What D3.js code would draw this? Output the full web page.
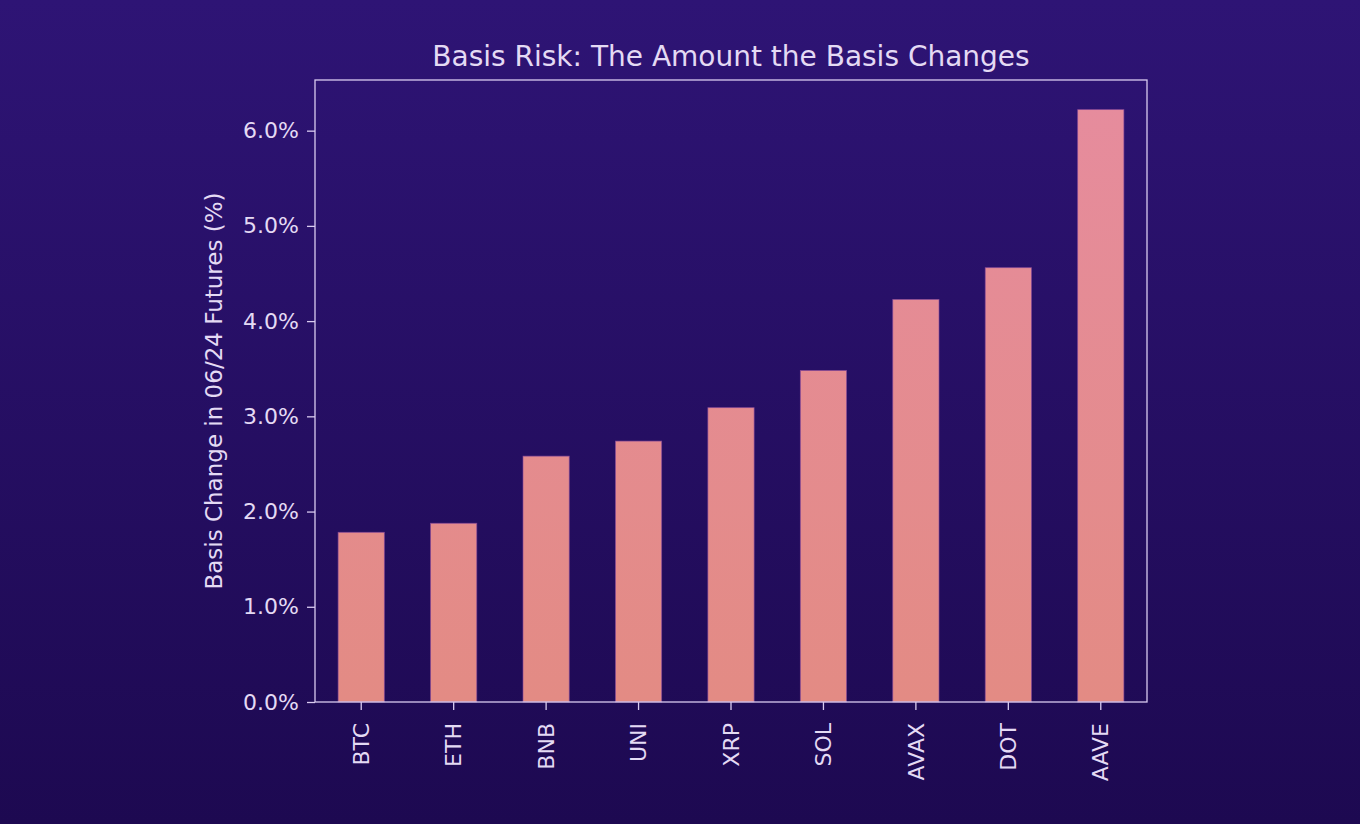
<!DOCTYPE html>
<html><head><meta charset="utf-8">
<script src="https://cdn.jsdelivr.net/npm/d3@7"></script>
<style>html,body{margin:0;padding:0;overflow:hidden;background:#25105f;}</style>
</head><body>
<script>
const categories = ["BTC","ETH","BNB","UNI","XRP","SOL","AVAX","DOT","AAVE"];
const values = [1.782, 1.877, 2.582, 2.740, 3.091, 3.481, 4.228, 4.561, 6.221];
const yTicks = [0,1,2,3,4,5,6];
const title = "Basis Risk: The Amount the Basis Changes";
const yLabel = "Basis Change in 06/24 Futures (%)";

const W = 1360, H = 824;
const m = {left:315, right:1147, top:80, bottom:702};
const txt = "#e4daf4", axisC = "#d9cbf0";
const font = "DejaVu Sans, sans-serif";

const svg = d3.select("body").append("svg").attr("width",W).attr("height",H);
const defs = svg.append("defs");
const bg = defs.append("linearGradient").attr("id","bg").attr("x1",0).attr("y1",0).attr("x2",0).attr("y2",1);
bg.append("stop").attr("offset","0%").attr("stop-color","#2e1475");
bg.append("stop").attr("offset","100%").attr("stop-color","#1d0951");
const bar = defs.append("linearGradient").attr("id","bar").attr("gradientUnits","userSpaceOnUse")
  .attr("x1",0).attr("y1",m.top).attr("x2",0).attr("y2",m.bottom);
bar.append("stop").attr("offset","0%").attr("stop-color","#e68c9e");
bar.append("stop").attr("offset","100%").attr("stop-color","#e38b84");

svg.append("rect").attr("width",W).attr("height",H).attr("fill","url(#bg)");

const x = d3.scaleBand().domain(categories).range([m.left,m.right]).paddingInner(0.5).paddingOuter(0.25);
const y = d3.scaleLinear().domain([0, d3.max(values)*1.05]).range([m.bottom,m.top]);

svg.append("g").selectAll("rect").data(values).join("rect")
  .attr("x",(d,i)=>x(categories[i])).attr("width",x.bandwidth())
  .attr("y",d=>y(d)).attr("height",d=>y(0)-y(d))
  .attr("fill","url(#bar)").attr("stroke","#8a4a9a").attr("stroke-width",0.8).attr("stroke-opacity",0.8);

// frame
svg.append("rect").attr("x",m.left).attr("y",m.top).attr("width",m.right-m.left).attr("height",m.bottom-m.top)
  .attr("fill","none").attr("stroke",axisC).attr("stroke-width",1.3);

const yAxis = svg.append("g").attr("transform",`translate(${m.left},0)`)
  .call(d3.axisLeft(y).tickValues(yTicks).tickFormat(d=>d.toFixed(1)+"%").tickSize(8).tickPadding(8));
const xAxis = svg.append("g").attr("transform",`translate(0,${m.bottom})`)
  .call(d3.axisBottom(x).tickSize(8).tickPadding(8));
[yAxis,xAxis].forEach(g=>{
  g.select(".domain").remove();
  g.selectAll(".tick line").attr("stroke",axisC).attr("stroke-width",1.3);
  g.selectAll(".tick text").attr("fill",txt).attr("font-family",font).attr("font-size",22);
});
xAxis.selectAll(".tick text").attr("transform","rotate(-90)").attr("text-anchor","end")
  .attr("x",-21).attr("y",0).attr("dy","0.35em");

svg.append("text").attr("x",(m.left+m.right)/2).attr("y",66).attr("text-anchor","middle")
  .attr("fill",txt).attr("font-family",font).attr("font-size",28).text(title);
svg.append("text").attr("transform",`translate(222,${(m.top+m.bottom)/2}) rotate(-90)`)
  .attr("text-anchor","middle").attr("fill",txt).attr("font-family",font).attr("font-size",23).text(yLabel);
</script>
</body></html>
